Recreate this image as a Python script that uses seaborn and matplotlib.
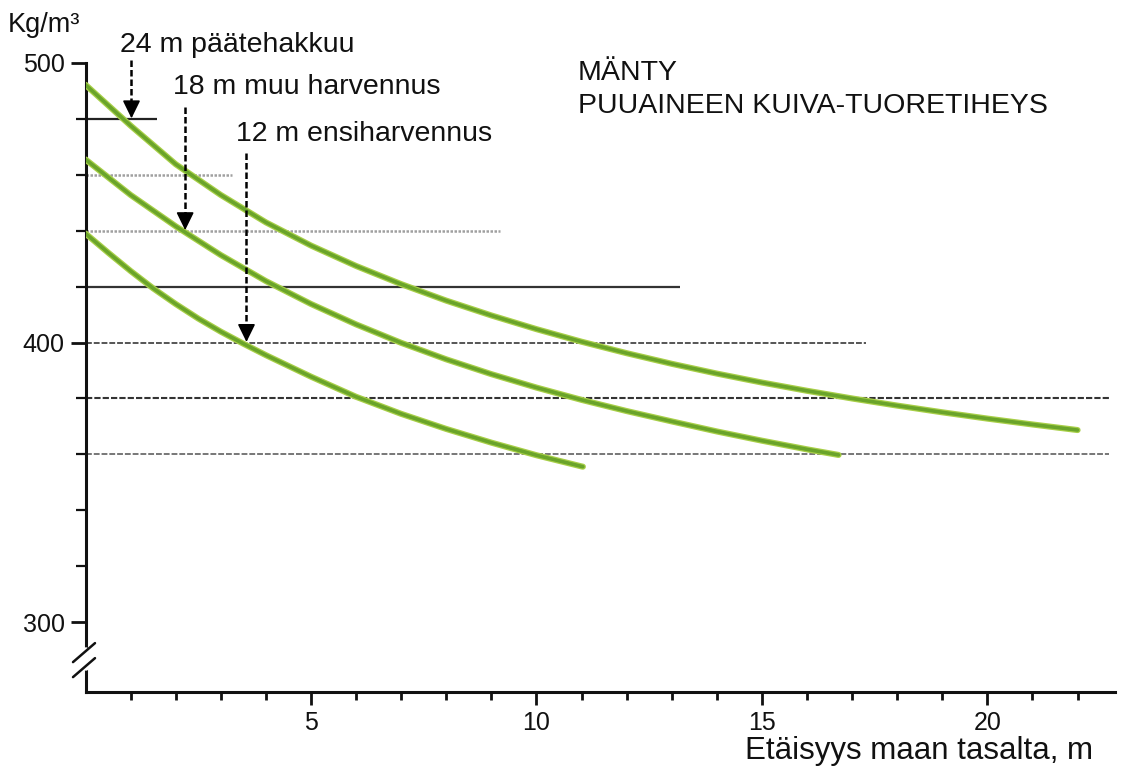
import matplotlib
matplotlib.use("Agg")
import matplotlib.pyplot as plt
from matplotlib.ticker import FixedLocator
import seaborn as sns
import pandas as pd

# ---- data ----
x_24m = [0, 1, 2, 3, 4, 5, 6, 7, 8, 9, 10, 11, 12, 13, 14, 15, 16, 17, 18, 19, 20, 21, 22]
y_24m = [492.2, 477.6, 463.8, 452.8, 443.0, 434.7, 427.4, 420.9, 415.0, 409.7, 404.8, 400.3,
         396.2, 392.4, 388.9, 385.7, 382.75, 380.0, 377.45, 375.05, 372.8, 370.7, 368.7]

x_18m = [0, 1, 2, 3, 4, 5, 6, 7, 8, 9, 10, 11, 12, 13, 14, 15, 16, 16.7]
y_18m = [465.5, 452.8, 441.6, 431.3, 422.0, 413.8, 406.5, 399.9, 394.0, 388.7, 383.9, 379.5,
         375.5, 371.8, 368.2, 364.9, 361.8, 359.8]

x_12m = [0, 0.5, 1, 1.5, 2, 2.5, 3, 3.5, 4, 5, 6, 7, 8, 9, 10, 11, 11.03]
y_12m = [439.0, 432.2, 425.6, 419.4, 413.8, 408.6, 403.9, 399.6, 395.5, 387.8, 380.6, 374.5,
         369.1, 364.2, 359.7, 355.7, 355.6]

ref_levels = [480, 460, 440, 420, 400, 380, 360]
ref_ends = [1.58, 3.24, 9.19, 13.18, 17.3, 22.7, 22.7]

labels = ["24 m päätehakkuu", "18 m muu harvennus", "12 m ensiharvennus"]
arrow_x = [1.02, 2.21, 3.57]
arrow_top = [501.0, 484.3, 467.9]
arrow_tip = [480, 440, 400]

x_major = [5, 10, 15, 20]
y_major = [300, 400, 500]

title_lines = ["MÄNTY", "PUUAINEEN KUIVA-TUORETIHEYS"]
xlabel = "Etäisyys maan tasalta, m"
ylabel = "Kg/m³"

# ---- figure ----
sns.set_theme(style="white")
plt.rcParams['font.family'] = ['Liberation Sans', 'DejaVu Sans']

W, H = 1122, 771
fig = plt.figure(figsize=(W / 100, H / 100), dpi=100)
ax = fig.add_axes([85.5 / W, 1 - 692 / H, (1115 - 85.5) / W, (692 - 63) / H])
ax.set_xlim(0, 22.83)
ax.set_ylim(275, 500)

def px2x(px):
    return (px - 85.5) / 45.1

def px2y(py):
    return 500 - (py - 63) / 2.795

# reference lines
styles = [
    dict(color="#222222", lw=1.6, ls="-"),
    dict(color="#a0a0a0", lw=1.8, ls=(0, (1, 0.6))),
    dict(color="#a0a0a0", lw=1.8, ls=(0, (1, 0.6))),
    dict(color="#333333", lw=1.6, ls="-"),
    dict(color="#555555", lw=1.4, ls=(0, (3, 1))),
    dict(color="#333333", lw=1.5, ls=(0, (3, 1))),
    dict(color="#777777", lw=1.4, ls=(0, (3, 1))),
]
for lev, end, st in zip(ref_levels, ref_ends, styles):
    ax.hlines(lev, 0, end, zorder=1, **st)

# curves
df = pd.concat([
    pd.DataFrame({"x": x_24m, "y": y_24m, "s": labels[0]}),
    pd.DataFrame({"x": x_18m, "y": y_18m, "s": labels[1]}),
    pd.DataFrame({"x": x_12m, "y": y_12m, "s": labels[2]}),
])
sns.lineplot(data=df, x="x", y="y", units="s", estimator=None, sort=False,
             color="#a8cf48", lw=4.4, ax=ax, zorder=3, legend=False)
sns.lineplot(data=df, x="x", y="y", units="s", estimator=None, sort=False,
             color="#6aa42a", lw=2.6, ax=ax, zorder=4, legend=False)

# arrows + labels
head = 15 / 2.795
label_pos = [(120, 45), (173, 87), (236, 134)]
for lab, a_x, top, tip, (lx, ly) in zip(labels, arrow_x, arrow_top, arrow_tip, label_pos):
    ax.plot([a_x, a_x], [top, tip + head * 0.8], color="black", lw=1.8,
            ls=(0, (2.6, 1.2)), clip_on=False, zorder=5, solid_capstyle="butt")
    ax.annotate("", xy=(a_x, tip + 0.2), xytext=(a_x, tip + head),
                arrowprops=dict(arrowstyle="-|>,head_length=0.55,head_width=0.27",
                                color="black", lw=1.2, mutation_scale=20,
                                shrinkA=0, shrinkB=0),
                annotation_clip=False, zorder=6)
    ax.text(px2x(lx), px2y(ly), lab, fontsize=20.5, ha="left", va="center",
            clip_on=False, color="#111111")

# titles
ax.text(px2x(578), px2y(73), title_lines[0], fontsize=20.5, ha="left", va="center", clip_on=False, color="#111111")
ax.text(px2x(578), px2y(106), title_lines[1], fontsize=20.5, ha="left", va="center", clip_on=False, color="#111111")

fig.text(8 / W, 1 - 25 / H, ylabel, fontsize=19.5, ha="left", va="center", color="#111111")
fig.text(745 / W, 1 - 759 / H, xlabel, fontsize=22.5, ha="left", va="baseline", color="#111111")

# axes styling
sns.despine(ax=ax, top=True, right=True)
for side in ["left", "bottom"]:
    ax.spines[side].set_linewidth(2.2)
    ax.spines[side].set_color("#111111")
ax.spines["left"].set_bounds(275, 500)

ax.xaxis.set_major_locator(FixedLocator(x_major))
ax.xaxis.set_minor_locator(FixedLocator([v for v in range(1, 23) if v not in x_major]))
ax.set_xticklabels([str(v) for v in x_major])
ax.yaxis.set_major_locator(FixedLocator(y_major))
ax.yaxis.set_minor_locator(FixedLocator([320, 340, 360, 380, 420, 440, 460, 480]))
ax.set_yticklabels([str(v) for v in y_major])
ax.tick_params(axis="x", which="major", direction="out", length=9, width=2, pad=5,
               labelsize=18, colors="#111111", bottom=True)
ax.tick_params(axis="x", which="minor", direction="out", length=6, width=2, bottom=True, colors="#111111")
ax.tick_params(axis="y", which="major", direction="out", length=11, width=2, pad=4,
               labelsize=18, colors="#111111", left=True)
ax.tick_params(axis="y", which="minor", direction="out", length=7, width=1.6, left=True, colors="#111111")
ax.set_xlabel("")
ax.set_ylabel("")
ax.grid(False)

# axis break mark
y_a, y_b = px2y(650), px2y(668)
ax.plot([0, 0], [y_a, y_b], color="white", lw=4, clip_on=False, zorder=6)
for (x0, y0, x1, y1) in [(73, 662, 95, 643), (73, 677, 95, 658)]:
    ax.plot([px2x(x0), px2x(x1)], [px2y(y0), px2y(y1)], color="#111111", lw=1.8,
            clip_on=False, zorder=7)

fig.savefig("out.png", dpi=100, facecolor="white")
